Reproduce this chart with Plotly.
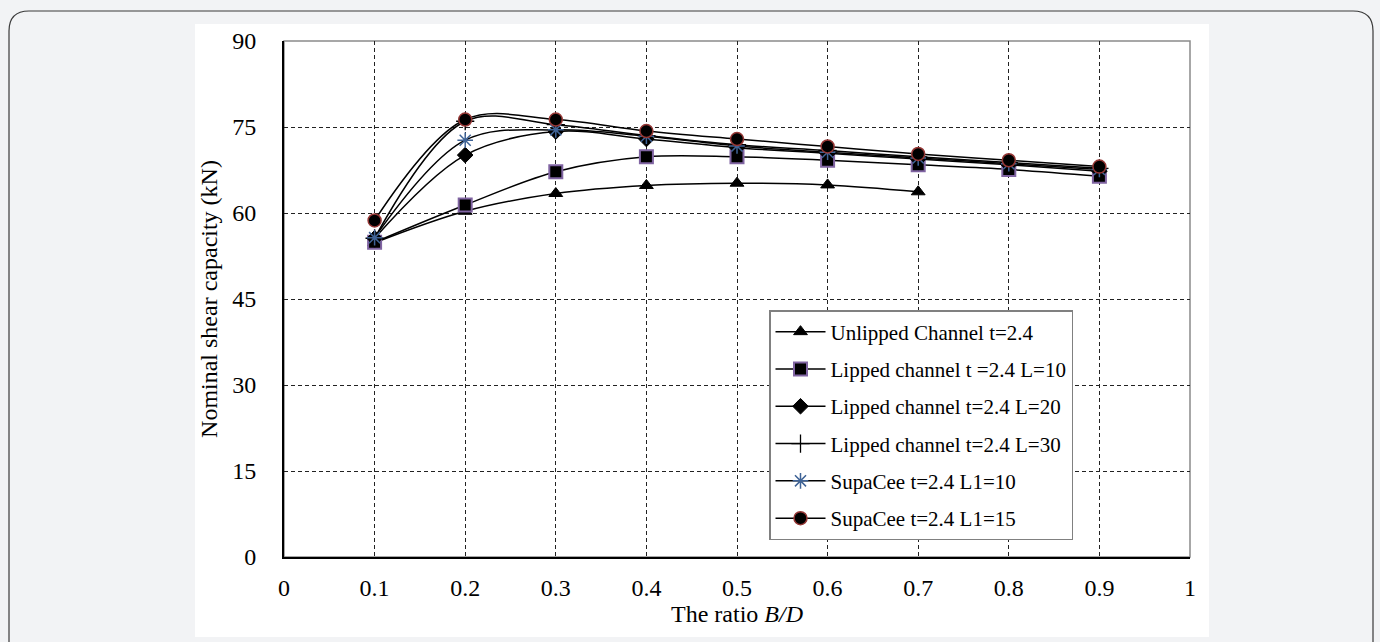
import plotly.graph_objects as go

x_vals = [0.1, 0.2, 0.3, 0.4, 0.5, 0.6, 0.7, 0.8, 0.9]
x_unlipped = [0.1, 0.2, 0.3, 0.4, 0.5, 0.6, 0.7]

unlipped = [54.8, 60.3, 63.4, 64.8, 65.2, 64.9, 63.7]
lipped_l10 = [54.9, 61.4, 67.2, 69.8, 69.8, 69.2, 68.4, 67.6, 66.4]
lipped_l20 = [55.6, 70.1, 74.2, 72.9, 71.4, 70.4, 69.4, 68.4, 67.3]
lipped_l30 = [55.6, 76.0, 75.4, 73.5, 71.9, 70.9, 69.8, 68.8, 67.8]
supacee_l10 = [55.7, 72.7, 74.5, 73.4, 71.7, 70.6, 69.6, 68.6, 67.6]
supacee_l15 = [58.7, 76.3, 76.3, 74.3, 72.9, 71.6, 70.3, 69.2, 68.1]

names = [
    "Unlipped Channel t=2.4",
    "Lipped channel t =2.4 L=10",
    "Lipped channel t=2.4 L=20",
    "Lipped channel t=2.4 L=30",
    "SupaCee t=2.4 L1=10",
    "SupaCee t=2.4 L1=15",
]

x_ticks = [0, 0.1, 0.2, 0.3, 0.4, 0.5, 0.6, 0.7, 0.8, 0.9, 1]
y_ticks = [0, 15, 30, 45, 60, 75, 90]

FONT = "Liberation Serif, Times New Roman, serif"

fig = go.Figure()

series = [
    (x_unlipped, unlipped, dict(symbol="triangle-up", size=12, color="black", line=dict(color="black", width=1))),
    (x_vals, lipped_l10, dict(symbol="square", size=13, color="black", line=dict(color="#8064a2", width=2))),
    (x_vals, lipped_l20, dict(symbol="diamond", size=12, color="black", line=dict(color="black", width=1))),
    (x_vals, lipped_l30, dict(symbol="cross-thin", size=13, color="black", line=dict(color="black", width=1.3))),
    (x_vals, supacee_l10, dict(symbol="asterisk-open", size=13, color="#3f6396", line=dict(color="#3f6396", width=1.5))),
    (x_vals, supacee_l15, dict(symbol="circle", size=13, color="black", line=dict(color="#953735", width=1.5))),
]

for i, (xs, ys, mk) in enumerate(series):
    fig.add_trace(go.Scatter(
        x=xs, y=ys, mode="lines+markers", name=names[i],
        legendgroup=f"g{i}",
        line=dict(color="black", width=1.5, shape="spline", smoothing=1.0),
        marker=mk,
    ))

# plot area in pixels: x0=284, x1=1190, y top=41, y bottom=557
L, R, T, B = 284, 190, 41, 85
W = 1380 - L - R
H = 642 - T - B

def px(xp):
    return (xp - L) / W

def py(yp):
    return (642 - B - yp) / H

shapes = []
# white chart area
shapes.append(dict(type="rect", xref="paper", yref="paper",
                   x0=px(195), x1=px(1209), y0=py(637), y1=py(24),
                   fillcolor="white", line=dict(width=0), layer="below"))
# rounded outer border
x0, x1, y0, y1 = px(9), px(1373), py(670), py(11)
dx, dy = 20 / W, 20 / H
path = (f"M {x0+dx},{y1} L {x1-dx},{y1} Q {x1},{y1} {x1},{y1-dy} "
        f"L {x1},{y0} L {x0},{y0} L {x0},{y1-dy} Q {x0},{y1} {x0+dx},{y1} Z")
shapes.append(dict(type="path", xref="paper", yref="paper", path=path,
                   line=dict(color="#3a3a3a", width=1.2), fillcolor="rgba(0,0,0,0)", layer="below"))
# plot frame (top/right gray)
shapes.append(dict(type="rect", xref="paper", yref="paper", x0=0, x1=1, y0=0, y1=1,
                   line=dict(color="#8a8a8a", width=1.5), layer="below"))

fig.update_layout(
    width=1380, height=642,
    margin=dict(l=L, r=R, t=T, b=B, autoexpand=False),
    paper_bgcolor="#f2f3f5",
    plot_bgcolor="white",
    font=dict(family=FONT, size=24, color="black"),
    showlegend=True,
    legend=dict(
        x=px(769), y=py(310), xanchor="left", yanchor="top",
        bgcolor="white", bordercolor="#808080", borderwidth=1.5,
        font=dict(family=FONT, size=21, color="black"),
        tracegroupgap=7, traceorder="grouped", itemwidth=50,
    ),
    shapes=shapes,
)

fig.update_xaxes(
    range=[0, 1], tickvals=x_ticks, ticktext=[f"{v:g}" for v in x_ticks],
    showgrid=True, gridcolor="#222", gridwidth=1, griddash="4px,3px",
    showline=True, linecolor="black", linewidth=2, mirror=False,
    ticks="", zeroline=False, ticklabelstandoff=8,
    tickfont=dict(family=FONT, size=24),
    title=dict(text="The ratio <i>B/D</i>", font=dict(family=FONT, size=24), standoff=4),
)
fig.update_yaxes(
    range=[0, 90], tickvals=y_ticks,
    showgrid=True, gridcolor="#222", gridwidth=1, griddash="4px,3px",
    showline=True, linecolor="black", linewidth=2, mirror=False,
    ticks="", zeroline=False, ticklabelstandoff=21,
    tickfont=dict(family=FONT, size=24),
    title=dict(text="Nominal shear capacity (kN)", font=dict(family=FONT, size=24), standoff=8),
)

fig.write_html("out.html")
